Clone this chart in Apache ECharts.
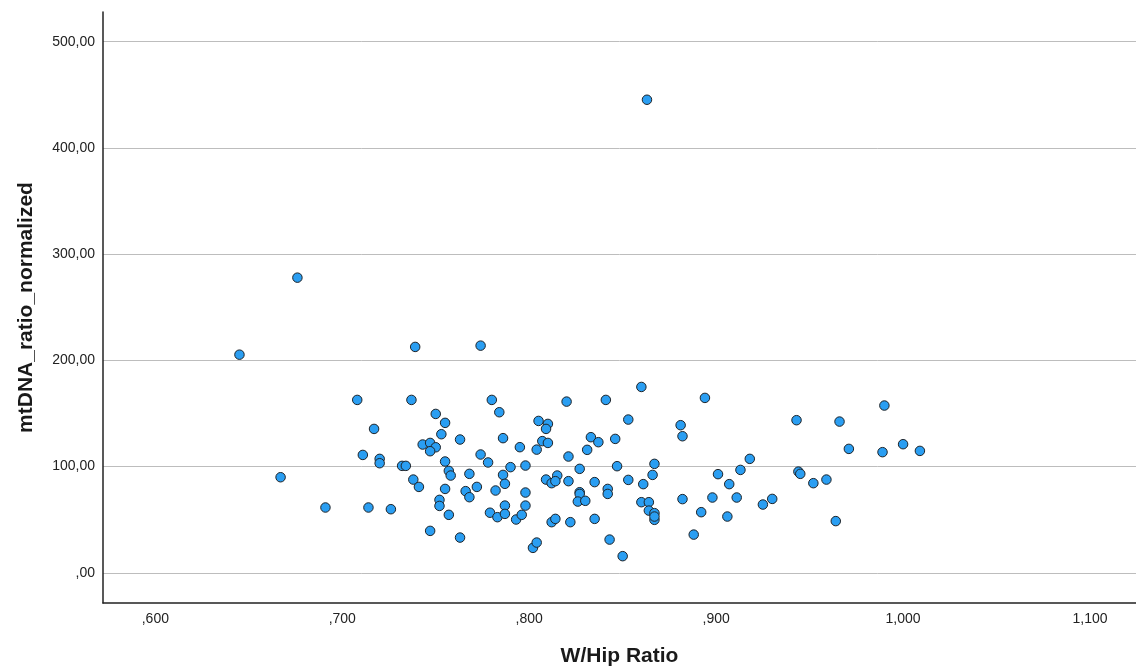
<!DOCTYPE html>
<html>
<head>
<meta charset="utf-8">
<script src="https://cdn.jsdelivr.net/npm/echarts@6/dist/echarts.min.js"></script>
<style>
html,body{margin:0;padding:0;background:#fff;}
#chart{width:1136px;height:672px;}
</style>
</head>
<body>
<div id="chart"></div>
<script>
// W/Hip Ratio values
const whipRatio = [
  0.645,0.739,0.774,0.667,0.691,0.708,0.717,0.711,0.720,0.720,
  0.714,0.726,0.737,0.732,0.734,0.738,0.741,0.747,0.750,0.755,
  0.753,0.743,0.747,0.750,0.747,0.763,0.755,0.757,0.758,0.768,
  0.755,0.752,0.752,0.766,0.768,0.772,0.757,0.763,0.774,0.778,
  0.779,0.783,0.782,
  0.780,0.784,0.786,0.786,0.787,0.790,0.795,0.798,0.798,0.798,
  0.787,0.787,0.793,0.796,0.802,0.804,0.805,0.810,0.809,0.807,
  0.810,0.804,0.809,0.815,0.812,0.814,0.812,0.814,0.820,0.821,
  0.821,0.822,0.827,0.827,0.827,0.826,0.830,0.831,0.833,0.837,
  0.835,0.835,0.841,0.846,0.842,0.842,0.847,0.843,0.850,0.853,
  0.853,0.860,0.861,0.860,0.864,0.864,0.867,0.866,0.867,0.867,
  0.867,0.881,0.882,0.882,0.894,0.892,0.888,0.898,0.901,0.907,
  0.906,0.911,0.913,0.918,0.925,0.930,
  0.943,0.944,0.945,0.952,0.959,0.964,0.966,0.971,0.990,0.989,
  1.000,1.009,
  0.863,0.676
];
// mtDNA_ratio_normalized values
const mtDNA = [
  205.4,212.7,213.9,90.0,61.5,162.8,135.5,111.0,107.3,103.2,
  61.5,59.9,162.8,100.7,100.7,87.8,80.9,39.5,149.6,141.2,
  130.5,120.8,122.3,118.2,114.5,125.5,104.8,96.0,91.6,93.2,
  79.0,68.7,63.0,76.9,71.2,80.9,54.6,33.2,111.4,103.9,
  56.6,52.4,77.5,
  162.8,151.2,126.8,92.2,83.8,99.5,118.3,101.0,75.6,63.3,
  63.3,55.5,50.2,54.6,23.5,28.5,143.0,140.2,135.5,124.0,
  122.3,116.0,87.8,91.6,84.4,86.3,47.7,50.8,161.2,109.5,
  86.3,47.7,97.9,75.9,74.3,67.1,67.8,115.8,127.7,123.0,
  85.4,50.8,162.8,126.1,79.0,74.3,100.4,31.3,15.7,144.3,
  87.5,175.0,83.5,66.5,66.5,58.6,102.6,92.2,56.2,49.9,
  53.0,139.0,128.6,69.4,164.7,57.1,36.0,70.9,92.9,83.5,
  53.0,70.9,96.9,107.3,64.3,69.6,
  143.7,95.3,93.2,84.4,87.8,48.7,142.4,116.7,157.5,113.6,
  121.1,114.8,
  445.4,277.9
];
const xTitle = 'W/Hip Ratio';
const yTitle = 'mtDNA_ratio_normalized';

const points = whipRatio.map((x, i) => [x, mtDNA[i]]);

function fmt(v, d) {
  let s = v.toFixed(d).replace('.', ',');
  if (s.startsWith('0,')) s = s.slice(1);
  return s;
}

const FONT = "'Liberation Sans', Arial, sans-serif";
const chart = echarts.init(document.getElementById('chart'), null, {renderer: 'canvas'});
chart.setOption({
  backgroundColor: '#ffffff',
  animation: false,
  grid: {left: 103, top: 12, right: 0, bottom: 68, containLabel: false},
  xAxis: {
    type: 'value',
    min: 0.572,
    max: 1.1246,
    name: xTitle,
    nameLocation: 'middle',
    nameGap: 43,
    nameTextStyle: {fontFamily: FONT, fontSize: 21, fontWeight: 'bold', color: '#1a1a1a'},
    axisLine: {show: true, onZero: false, lineStyle: {color: '#222', width: 1.5}},
    axisTick: {show: false},
    splitLine: {show: false},
    axisLabel: {
      fontFamily: FONT, fontSize: 14, color: '#222', margin: 9,
      showMinLabel: false, showMaxLabel: false,
      formatter: v => fmt(v, 3)
    }
  },
  yAxis: {
    type: 'value',
    min: -28.4,
    max: 528,
    name: yTitle,
    nameLocation: 'middle',
    nameGap: 66,
    nameRotate: 90,
    nameTextStyle: {fontFamily: FONT, fontSize: 21, fontWeight: 'bold', color: '#1a1a1a'},
    axisLine: {show: true, onZero: false, lineStyle: {color: '#222', width: 1.5}},
    axisTick: {show: false},
    splitLine: {show: true, showMinLine: false, showMaxLine: false, lineStyle: {color: '#bdbdbd', width: 1}},
    axisLabel: {
      fontFamily: FONT, fontSize: 14, color: '#222', margin: 8,
      showMinLabel: false, showMaxLabel: false,
      formatter: v => fmt(v, 2)
    }
  },
  series: [{
    type: 'scatter',
    data: points,
    symbol: 'circle',
    symbolSize: 9.5,
    itemStyle: {color: '#2a9ef2', borderColor: '#1e2328', borderWidth: 1, opacity: 1}
  }]
});
</script>
</body>
</html>
